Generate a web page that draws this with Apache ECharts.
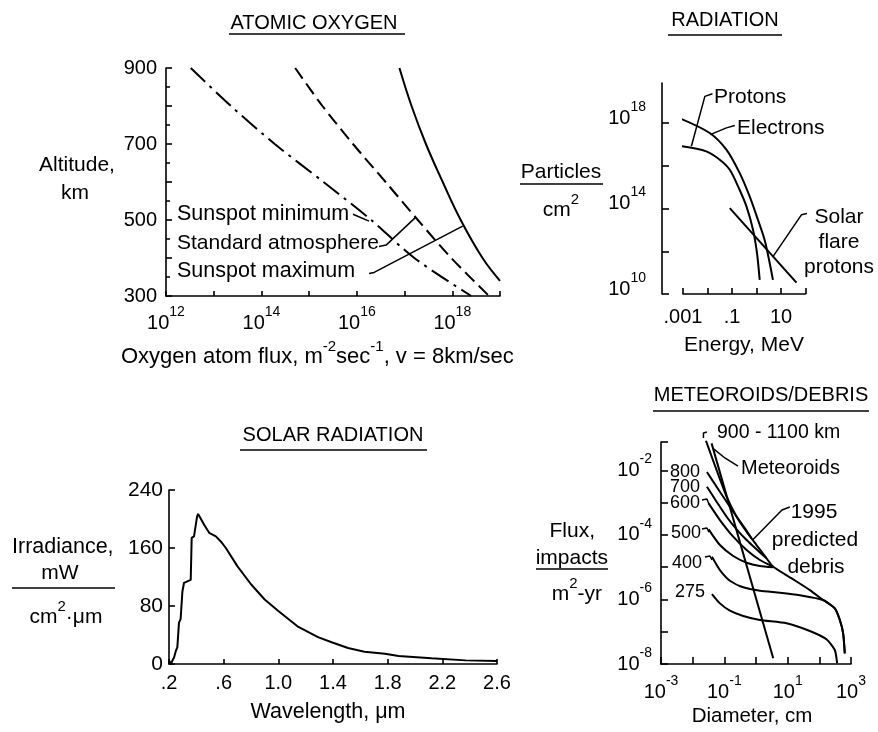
<!DOCTYPE html>
<html><head><meta charset="utf-8">
<script src="https://cdn.jsdelivr.net/npm/echarts@6/dist/echarts.min.js"></script>
<style>html,body{margin:0;padding:0;background:#fff}#c{width:878px;height:732px}</style>
</head><body><div id="c"></div>
<script>
const FONT = '"Liberation Sans", Arial, sans-serif';

// ---------- ATOMIC OXYGEN ----------
const aoAltitude = [900, 800, 700, 600, 500, 400, 300];
const aoFluxSunspotMin = [3.3e12, 2.3e13, 1.9e14, 2.0e15, 2.0e16, 1.6e17, 2.5e18];
const aoFluxStandard = [5.1e14, 1.9e15, 8.3e15, 4.0e16, 1.9e17, 9.5e17, 5.9e18];
const aoAltitudeMax = [900, 800, 700, 600, 500, 400, 340];
const aoFluxSunspotMax = [7.8e16, 1.4e17, 2.8e17, 6.3e17, 1.5e18, 4.3e18, 1.0e19];
const aoLeaderMin = [[8.3e15, 515], [1.8e16, 497]];
const aoLeaderStd = [[2.9e16, 430], [4.1e16, 434], [1.7e17, 507]];
const aoLeaderMax = [[1.8e16, 359], [2.3e16, 362], [1.65e18, 484]];
const aoXTicks = [1e12, 1e13, 1e14, 1e15, 1e16, 1e17, 1e18, 1e19];
const aoXLabels = [1e12, 1e14, 1e16, 1e18];
const aoYLabels = [300, 500, 700, 900];

// ---------- RADIATION ----------
const radElectrons = [[8.5e-4, 1.58e18], [1.23e-2, 3.47e17], [5.9e-2, 5.75e16], [0.204, 4.68e15], [0.525, 3.72e14], [1.15, 2.95e13], [2.14, 3.47e12], [3.47, 2.75e11], [4.68, 4.57e10]];
const radProtons = [[8.5e-4, 8.3e16], [8.9e-3, 4.8e16], [3.16e-2, 1.95e16], [8.1e-2, 6.6e15], [0.204, 7.6e14], [0.389, 1.26e14], [0.724, 1.0e13], [1.05, 8.1e11], [1.35, 4.6e10]];
const radSolarFlare = [[8.1e-2, 1.05e14], [42.7, 3.39e10]];
const radLeaderProtons = [[1.6e-2, 2.4e19], [7.8e-3, 1.8e19], [2.2e-3, 8.3e16]];
const radLeaderElectrons = [[0.13, 7.8e17], [5.9e-2, 6.0e17], [1.3e-2, 2.9e17]];
const radLeaderFlare = [[148, 6.2e13], [68, 5.1e13], [4.7, 5.6e11]];
const radXTicks = [1e-3, 1e-2, 1e-1, 1, 10, 100];
const radXLabelValues = [1e-3, 1e-1, 10];
const radXLabelText = ['.001', '.1', '10'];
const radYTicks = [1e10, 1e12, 1e14, 1e16, 1e18, 7.6e19];
const radYLabels = [1e10, 1e14, 1e18];

// ---------- SOLAR RADIATION ----------
const solarWavelength = [0.20, 0.212, 0.237, 0.25, 0.261, 0.273, 0.285, 0.298, 0.31, 0.334, 0.359, 0.366, 0.383, 0.396, 0.405, 0.413, 0.425, 0.44, 0.457, 0.494, 0.543, 0.579, 0.616, 0.70, 0.80, 0.90, 1.0, 1.14, 1.29, 1.39, 1.51, 1.63, 1.78, 1.88, 2.12, 2.37, 2.6];
const solarIrradiance = [5, 0, 9, 18, 23, 57, 62, 100, 112, 114, 116, 174, 176, 178, 203, 207, 206, 198, 192, 181, 176, 169, 160, 135, 110, 89, 73, 52, 37, 30, 22, 17, 14, 11, 8, 5, 4];
const solarXLabelValues = [0.2, 0.6, 1.0, 1.4, 1.8, 2.2, 2.6];
const solarXLabelText = ['.2', '.6', '1.0', '1.4', '1.8', '2.2', '2.6'];
const solarYLabels = [0, 80, 160, 240];

// ---------- METEOROIDS / DEBRIS ----------
const met900to1100 = [[2.63e-2, 8.2e-2], [5.7e-2, 1.01e-2], [0.118, 1.52e-3], [0.244, 3.64e-4], [0.504, 1.25e-4], [1.04, 4.83e-5], [2.15, 1.87e-5], [3.5, 1.03e-5], [15.0, 4.18e-6], [50.1, 1.95e-6], [132, 9.57e-7], [308, 5.28e-7], [444, 2.3e-7], [565, 8.89e-8], [637, 2.14e-8]];
const met800 = [[2.82e-2, 8.79e-3], [7.26e-2, 2.16e-3], [0.191, 5.2e-4], [0.447, 1.58e-4], [0.724, 7.76e-5]];
const met700 = [[2.82e-2, 3.09e-3], [5.7e-2, 1.06e-3], [0.118, 3.64e-4], [0.244, 1.48e-4], [0.504, 6.9e-5], [1.04, 3.55e-5], [2.15, 1.87e-5]];
const met600 = [[3.19e-2, 9.42e-4], [7.26e-2, 2.87e-4], [0.191, 8.75e-5], [0.504, 3.38e-5], [1.33, 1.66e-5], [3.5, 1.03e-5]];
const met500 = [[3.19e-2, 1.48e-4], [7.26e-2, 4.83e-5], [0.191, 2.21e-5], [0.504, 1.37e-5], [1.33, 1.08e-5], [3.5, 9.84e-6]];
const met400 = [[4.06e-2, 2.1e-5], [7.26e-2, 8.13e-6], [0.15, 3.8e-6], [0.395, 2.37e-6], [1.33, 1.86e-6], [5.68, 1.61e-6], [24.3, 1.34e-6], [132, 9.57e-7], [308, 5.28e-7], [444, 2.3e-7], [565, 8.89e-8], [637, 2.14e-8]];
const met275 = [[4.06e-2, 1.47e-6], [7.26e-2, 7.55e-7], [0.15, 4.48e-7], [0.395, 3.06e-7], [1.33, 2.3e-7], [9.2, 1.82e-7], [50.1, 1.05e-7], [168, 5.81e-8], [308, 2.71e-8], [365, 1.05e-8]];
const metMeteoroids = [[3.96e-2, 6.79e-2], [3.5, 1.51e-8]];
const metLeader900 = [[2.82e-2, 0.152], [2.19e-2, 0.142], [2.19e-2, 9.9e-2]];
const metLeaderMeteoroids = [[0.27, 1.35e-2], [0.104, 2.4e-2], [4.7e-2, 4.5e-2]];
const metLeaderDebris = [[11.7, 7.3e-4], [6.6, 5.9e-4], [0.78, 6.9e-5]];
const metHook600 = [[1.96e-2, 1.19e-3], [2.82e-2, 1.28e-3], [3.27e-2, 9.0e-4]];
const metHook500 = [[1.96e-2, 1.51e-4], [2.82e-2, 1.63e-4], [3.27e-2, 1.22e-4]];
const metHook400 = [[2.44e-2, 2.06e-5], [3.52e-2, 2.21e-5], [4.06e-2, 1.66e-5]];
const metXTicks = [1e-3, 1e-2, 1e-1, 1, 10, 100, 1000];
const metXLabels = [1e-3, 1e-1, 10, 1000];
const metYTicks = [1e-8, 1e-7, 1e-6, 1e-5, 1e-4, 1e-3, 1e-2, 7.5e-2];
const metYLabels = [1e-8, 1e-6, 1e-4, 1e-2];

// ---------- helpers ----------
const BLACK = '#000';
const richExp = {
  b: { fontSize: 20, fontFamily: FONT, color: BLACK, lineHeight: 36 },
  s: { fontSize: 14, fontFamily: FONT, color: BLACK, lineHeight: 14, verticalAlign: 'top' }
};
function expLabel(v) { return '{b|10}{s|' + Math.round(Math.log10(v)) + '}'; }
function pickText(values, texts) {
  return function (v) {
    for (let i = 0; i < values.length; i++) if (Math.abs(values[i] - v) <= Math.abs(values[i]) * 1e-6 + 1e-9) return texts[i];
    return '';
  };
}
function zip(xs, ys) { return xs.map((x, i) => [x, ys[i]]); }
const axisLine = { show: true, onZero: false, lineStyle: { color: BLACK, width: 1.6 } };
function tick(len, vals) { const t = { show: true, inside: true, length: len, lineStyle: { color: BLACK, width: 1.6 } }; if (vals) t.customValues = vals; return t; }

function curve(name, x, y, data, extra) {
  return Object.assign({
    name, type: 'line', xAxisIndex: x, yAxisIndex: y, data, symbol: 'none', silent: true, clip: false,
    lineStyle: { color: BLACK, width: 2 }
  }, extra || {});
}
function leader(x, y, data) {
  return curve('', x, y, data, { lineStyle: { color: BLACK, width: 1.5 } });
}

function T(text, x, y, align, size, rich) {
  const st = { text, x, y, fill: BLACK, fontSize: size || 21, fontFamily: FONT,
    align: align || 'left', textAlign: align || 'left', verticalAlign: 'middle', textVerticalAlign: 'middle' };
  if (rich) st.rich = rich;
  return { type: 'text', silent: true, style: st };
}
function L(x1, y1, x2, y2) {
  return { type: 'line', silent: true, shape: { x1, y1, x2, y2 }, style: { stroke: BLACK, lineWidth: 1.5 } };
}
const richName = {
  s: { fontSize: 15, fontFamily: FONT, fill: BLACK, color: BLACK, lineHeight: 15, verticalAlign: 'top' },
  b: { fontSize: 21, fontFamily: FONT, fill: BLACK, color: BLACK, lineHeight: 36 }
};
const richNameBig = {
  s: { fontSize: 15, fontFamily: FONT, fill: BLACK, color: BLACK, lineHeight: 15, verticalAlign: 'top' },
  b: { fontSize: 22, fontFamily: FONT, fill: BLACK, color: BLACK, lineHeight: 36 }
};

const option = {
  animation: false,
  backgroundColor: '#fff',
  textStyle: { fontFamily: FONT, color: BLACK },
  grid: [
    { left: 166, top: 68, width: 334, height: 228, outerBoundsMode: 'none' },
    { left: 683, top: 83, width: 122.5, height: 211, outerBoundsMode: 'none' },
    { left: 169, top: 490, width: 328, height: 174, outerBoundsMode: 'none' },
    { left: 661, top: 442, width: 190, height: 222, outerBoundsMode: 'none' }
  ],
  xAxis: [
    { gridIndex: 0, type: 'log', logBase: 10, min: 1e12, max: 1e19, axisLine, splitLine: { show: false },
      axisTick: tick(5, aoXTicks),
      axisLabel: { customValues: aoXLabels, formatter: expLabel, rich: richExp, margin: 9, color: BLACK } },
    { gridIndex: 1, type: 'log', logBase: 10, min: 1e-3, max: 100, axisLine, splitLine: { show: false },
      axisTick: tick(6, radXTicks),
      axisLabel: { customValues: radXLabelValues, formatter: pickText(radXLabelValues, radXLabelText), fontSize: 20, fontFamily: FONT, margin: 13, color: BLACK } },
    { gridIndex: 2, type: 'value', min: 0.2, max: 2.6, axisLine, splitLine: { show: false },
      axisTick: tick(5, solarXLabelValues),
      axisLabel: { customValues: solarXLabelValues, formatter: pickText(solarXLabelValues, solarXLabelText), fontSize: 20, fontFamily: FONT, margin: 9, color: BLACK } },
    { gridIndex: 3, type: 'log', logBase: 10, min: 1e-3, max: 1e3, axisLine, splitLine: { show: false },
      axisTick: tick(7, metXTicks),
      axisLabel: { customValues: metXLabels, formatter: expLabel, rich: richExp, margin: 10, color: BLACK } }
  ],
  yAxis: [
    { gridIndex: 0, type: 'value', min: 300, max: 900, interval: 100, axisLine, splitLine: { show: false },
      axisTick: tick(6),
      minorTick: { show: true, splitNumber: 2, length: 4, lineStyle: { color: BLACK, width: 1.5 } },
      minorSplitLine: { show: false },
      axisLabel: { customValues: aoYLabels, fontSize: 20, fontFamily: FONT, margin: 9, color: BLACK } },
    { gridIndex: 1, type: 'log', logBase: 10, min: 1e10, max: 7.6e19, offset: 21, axisLine, splitLine: { show: false },
      axisTick: tick(7, radYTicks),
      axisLabel: { customValues: radYLabels, formatter: expLabel, rich: richExp, margin: 16, padding: [0, 0, 10, 0], color: BLACK } },
    { gridIndex: 2, type: 'value', min: 0, max: 240, interval: 80, axisLine, splitLine: { show: false },
      axisTick: tick(6),
      axisLabel: { customValues: solarYLabels, fontSize: 21, fontFamily: FONT, margin: 6, color: BLACK } },
    { gridIndex: 3, type: 'log', logBase: 10, min: 1e-8, max: 7.5e-2, axisLine, splitLine: { show: false },
      axisTick: tick(7, metYTicks),
      axisLabel: { customValues: metYLabels, formatter: expLabel, rich: richExp, margin: 9, color: BLACK } }
  ],
  series: [
    curve('Sunspot minimum', 0, 0, zip(aoFluxSunspotMin, aoAltitude), { smooth: 0.3, lineStyle: { color: BLACK, width: 2, type: [20, 6, 3, 6] } }),
    curve('Standard atmosphere', 0, 0, zip(aoFluxStandard, aoAltitude), { smooth: 0.3, lineStyle: { color: BLACK, width: 2, type: [13, 6] } }),
    curve('Sunspot maximum', 0, 0, zip(aoFluxSunspotMax, aoAltitudeMax), { smooth: 0.4 }),
    leader(0, 0, aoLeaderMin), leader(0, 0, aoLeaderStd), leader(0, 0, aoLeaderMax),

    curve('Electrons', 1, 1, radElectrons, { smooth: 0.3 }),
    curve('Protons', 1, 1, radProtons, { smooth: 0.3 }),
    curve('Solar flare protons', 1, 1, radSolarFlare),
    leader(1, 1, radLeaderProtons), leader(1, 1, radLeaderElectrons), leader(1, 1, radLeaderFlare),

    curve('Irradiance', 2, 2, zip(solarWavelength, solarIrradiance)),

    curve('900-1100 km', 3, 3, met900to1100, { smooth: 0.2 }),
    curve('800', 3, 3, met800, { smooth: 0.2 }),
    curve('700', 3, 3, met700, { smooth: 0.2 }),
    curve('600', 3, 3, met600, { smooth: 0.2 }),
    curve('500', 3, 3, met500, { smooth: 0.2 }),
    curve('400', 3, 3, met400, { smooth: 0.2 }),
    curve('275', 3, 3, met275, { smooth: 0.2 }),
    curve('Meteoroids', 3, 3, metMeteoroids),
    leader(3, 3, metLeader900), leader(3, 3, metLeaderMeteoroids), leader(3, 3, metLeaderDebris),
    leader(3, 3, metHook600), leader(3, 3, metHook500), leader(3, 3, metHook400)
  ],
  graphic: { elements: [
    // atomic oxygen
    T('ATOMIC OXYGEN', 314, 23, 'center', 20), L(229, 34, 405, 34),
    T('Altitude,', 77, 165, 'center', 21), T('km', 75, 193, 'center', 21),
    T('{b|Oxygen atom flux, m}{s|-2}{b|sec}{s|-1}{b|, v = 8km/sec}', 121, 357, 'left', 22, richNameBig),
    T('Sunspot minimum', 177, 214, 'left', 21.5),
    T('Standard atmosphere', 177, 243, 'left', 21),
    T('Sunspot maximum', 177, 271.5, 'left', 21.5),
    // radiation
    T('RADIATION', 725, 20, 'center', 20), L(668, 35, 782, 35),
    T('Particles', 561, 172, 'center', 21), L(520, 184, 603, 184),
    T('{b|cm}{s|2}', 561, 210, 'center', 21, richName),
    T('Energy, MeV', 744, 345, 'center', 21),
    T('Protons', 714, 97, 'left', 21),
    T('Electrons', 737, 128, 'left', 21),
    T('Solar', 839, 217, 'center', 21), T('flare', 839, 242, 'center', 21), T('protons', 839, 267, 'center', 21),
    // solar radiation
    T('SOLAR RADIATION', 333, 435, 'center', 20), L(240, 450, 427, 450),
    T('Irradiance,', 12, 547, 'left', 21.5),
    T('mW', 60, 573, 'center', 21), L(12, 588, 115, 588),
    T('{b|cm}{s|2}{b|·μm}', 66, 617, 'center', 21, richName),
    T('Wavelength, μm', 328, 712, 'center', 21.5),
    // meteoroids / debris
    T('METEOROIDS/DEBRIS', 761, 395, 'center', 20), L(653, 411, 869, 411),
    T('Flux,', 595, 531, 'right', 21), T('impacts', 608, 558, 'right', 21), L(536, 569, 608, 569),
    T('{b|m}{s|2}{b|-yr}', 602, 594, 'right', 21, richName),
    T('Diameter, cm', 752, 716, 'center', 20.5),
    T('900 - 1100 km', 717, 433, 'left', 19.5),
    T('Meteoroids', 741, 468, 'left', 20),
    T('1995', 814, 512, 'center', 21), T('predicted', 815, 540, 'center', 21), T('debris', 816, 567, 'center', 21),
    T('800', 670, 472, 'left', 18), T('700', 670, 487, 'left', 18), T('600', 670, 503, 'left', 18),
    T('500', 671, 533, 'left', 18), T('400', 672, 563, 'left', 18), T('275', 675, 592, 'left', 18)
  ] }
};

const chart = echarts.init(document.getElementById('c'), null, { renderer: 'canvas' });
chart.setOption(option);
</script></body></html>
